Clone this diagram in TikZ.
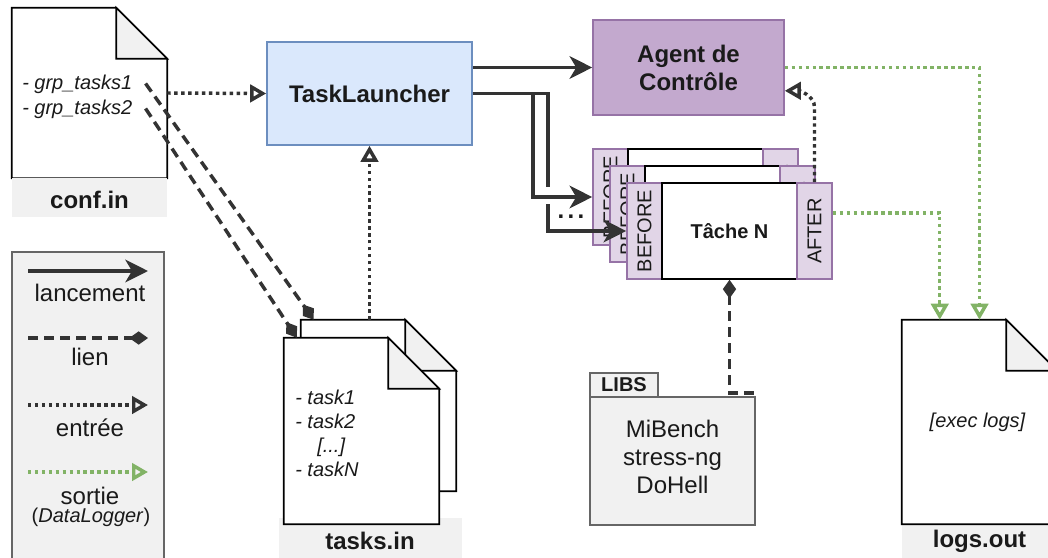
\documentclass[tikz,border=0pt]{standalone}
\usepackage{fontspec}
\setmainfont{Liberation Sans}
\usepackage{graphicx}
\usetikzlibrary{arrows.meta,calc}
\definecolor{blueF}{HTML}{DAE8FC}
\definecolor{blueS}{HTML}{6C8EBF}
\definecolor{purF}{HTML}{E1D5E7}
\definecolor{purS}{HTML}{9673A6}
\definecolor{agentF}{HTML}{C3A9CE}
\definecolor{grayF}{HTML}{F1F1F1}
\definecolor{grayS}{HTML}{666666}
\definecolor{darkC}{HTML}{333333}
\definecolor{greenS}{HTML}{82B366}
\definecolor{txt}{HTML}{1A1A1A}
\newcommand\fbig{\fontsize{18pt}{21pt}\selectfont}
\newcommand\fsmall{\fontsize{15pt}{18pt}\selectfont}
\newcommand\docshape[1]{%
  \filldraw[docline, fill=white] (#1.north west) -- ($(#1.north east)+(-51,0)$) -- ($(#1.north east)+(0,51)$) -- (#1.south east) -- (#1.south west) -- cycle;
  \filldraw[docline, fill=grayF] ($(#1.north east)+(-51,0)$) -- ($(#1.north east)+(-51,51)$) -- ($(#1.north east)+(0,51)$) -- cycle;}
\tikzset{
  blk/.style={rectangle, inner sep=0pt, line width=1.2pt},
  tlbox/.style={blk, draw=blueS, fill=blueF, minimum width=153.75pt, minimum height=77.25pt, font=\fbig\bfseries},
  agbox/.style={blk, draw=purS, fill=agentF, minimum width=143.25pt, minimum height=71.25pt, font=\fbig\bfseries, align=center},
  befbox/.style={blk, draw=purS, fill=purF, minimum width=26.25pt, minimum height=72pt, font=\fsmall},
  bodybox/.style={blk, draw=black, fill=white, minimum width=101.25pt, minimum height=72pt, font=\fsmall\bfseries},
  docarea/.style={rectangle, inner sep=0pt, minimum width=116.25pt},
  graylbl/.style={rectangle, inner sep=0pt, fill=grayF},
  docline/.style={draw=black, line width=1.2pt, line join=miter},
  legbox/.style={blk, draw=grayS, fill=grayF},
  pkgbox/.style={blk, draw=grayS, fill=grayF},
  launch/.style={draw=darkC, line width=2.6pt, -{Stealth[length=17pt,width=17pt,inset=5pt]}},
  inp/.style={draw=darkC, line width=2.6pt, dash pattern=on 2.6pt off 2.6pt, -{Triangle[open,length=12pt,width=13pt]}},
  outp/.style={draw=greenS, line width=2.6pt, dash pattern=on 2.6pt off 2.6pt, -{Triangle[open,length=12pt,width=13pt]}},
  lnkline/.style={draw=darkC, line width=2.6pt, dash pattern=on 7.5pt off 4.5pt},
  lnk/.style={lnkline, -{Diamond[length=14pt,width=10pt]}},
  bigtxt/.style={font=\fbig, inner sep=0pt},
  boldtxt/.style={font=\fbig\bfseries, inner sep=0pt},
  ittxt/.style={font=\fsmall\itshape, inner sep=0pt}
}
\begin{document}
\begin{tikzpicture}[x=0.75pt,y=-0.75pt, every node/.style={text=txt}]
\useasboundingbox (0,0) rectangle (1048,557);
\clip (0,0) rectangle (1048,557);

% legend
\node[legbox, minimum width=114pt, minimum height=246pt] (leg) at (88,416) {};
\coordinate (la1) at (28,271); \coordinate (lb1) at (148,271);
\coordinate (la2) at (28,338); \coordinate (lb2) at (148,338);
\coordinate (la3) at (28,405); \coordinate (lb3) at (148,405);
\coordinate (la4) at (28,472); \coordinate (lb4) at (148,472);
\draw[launch] (la1) -- (lb1);
\draw[lnk] (la2) -- (lb2);
\draw[inp] (la3) -- (lb3);
\draw[outp] (la4) -- (lb4);
\node[bigtxt] (lgA) at (90,292.5) {lancement};
\node[bigtxt] (lgB) at (90,356.5) {lien};
\node[bigtxt] (lgC) at (90,427.5) {entrée};
\node[bigtxt] (lgD) at (90,495.5) {sortie};
\node[font=\fsmall, inner sep=0pt] (lgE) at (91,517.5) {(\textit{DataLogger})};

% conf.in
\node[docarea, minimum height=127.5pt] (conf) at (89.5,93) {};
\docshape{conf}
\node[graylbl, minimum width=116.25pt, minimum height=29.25pt] (confL) at (89.5,197.5) {};
\node[boldtxt] (confT) at (89.5,199.5) {conf.in};
\node[ittxt, anchor=west] (grp1) at (22,84.5) {- grp\_tasks1};
\node[ittxt, anchor=west] (grp2) at (22,109.5) {- grp\_tasks2};

% tasks.in
\node[graylbl, minimum width=137.25pt, minimum height=34.5pt] (tasksL) at (370.5,541) {};
\node[docarea, minimum height=128.25pt] (tasksB) at (378.5,405.5) {};
\docshape{tasksB}
\node[docarea, minimum height=139.5pt] (tasksF) at (361.5,431) {};
\docshape{tasksF}
\node[ittxt, anchor=north west, align=left] (tasksX) at (295,389.5) {- task1\\- task2\\\hspace*{16.5pt}[...]\\- taskN};
\node[boldtxt] (tasksT) at (370,541) {tasks.in};

% logs.out
\node[graylbl, minimum width=118.5pt, minimum height=25.5pt] (logsL) at (981,541) {};
\node[docarea, minimum height=153pt] (logs) at (979.5,422) {};
\docshape{logs}
\node[ittxt] (logsX) at (977.5,422) {[exec logs]};
\node[boldtxt] (logsT) at (979.5,541) {logs.out};

% main boxes
\node[tlbox] (TL) at (369.5,93.5) {TaskLauncher};
\node[agbox] (AG) at (688.5,67.5) {Agent de\\Contrôle};

% LIBS
\node[pkgbox, minimum width=51pt, minimum height=18pt, font=\fsmall\bfseries] (libsT) at (624,385) {LIBS};
\node[pkgbox, minimum width=123.75pt, minimum height=96pt] (libsB) at (672.5,461) {};
\node[font=\fbig, align=center, inner sep=0pt] (libsX) at (672.5,457) {MiBench\\stress-ng\\DoHell};

% task frames
\node[befbox] (bf1) at (610.5,197) {\rotatebox{90}{BEFORE}};
\node[bodybox] (bd1) at (695.5,197) {};
\node[befbox] (af1) at (780.5,197) {\rotatebox{90}{AFTER}};
\node[befbox] (bf2) at (627.5,214) {\rotatebox{90}{BEFORE}};
\node[bodybox] (bd2) at (712.5,214) {};
\node[befbox] (af2) at (797.5,214) {\rotatebox{90}{AFTER}};
\node[befbox] (bf3) at (644.5,231) {\rotatebox{90}{BEFORE}};
\node[bodybox] (bd3) at (729.5,231) {Tâche N};
\node[befbox] (af3) at (814.5,231) {\rotatebox{90}{AFTER}};

% connectors
\draw[launch] (TL.east |- AG.west) -- (AG.west);
\draw[launch] (TL.east) -- ++(75,0) |- (bf3.west);
\fill[white] (543,187) rectangle (551,204);
\draw[launch] (TL.east) -- ++(60,0) |- (bf1.west);
\node[font=\fbig\bfseries, inner sep=0pt] (dots) at (571,217) {.\kern2.5pt.\kern2.5pt.};

\draw[inp] (conf.east) -- (TL.west);
\draw[inp] (TL.south |- tasksB.north) -- (TL.south);
\draw[inp] (af3.north) -- ++(0,-75) .. controls +(0,-12) and +(14,0) .. ($(AG.south east)+(0,-25)$);

\draw[outp] (AG.east) -| (logs.north);
\draw[outp] ($(af3.east)+(0,-18)$) -| ($(logs.north west)+(38,0)$);

\coordinate (g1) at ($(grp1.east)+(13,-1)$);
\coordinate (g2) at ($(grp2.east)+(13,-1)$);
\draw[lnk] (g1) -- ($(tasksB.north west)+(13,0)$);
\draw[lnk] (g2) -- ($(tasksF.north west)+(13,0)$);
\draw[lnkline, {Diamond[length=14pt,width=10pt]}-] (bd3.south) |- ($(libsB.north east)+(0,-3)$) -- (libsB.north east);
\end{tikzpicture}
\end{document}
